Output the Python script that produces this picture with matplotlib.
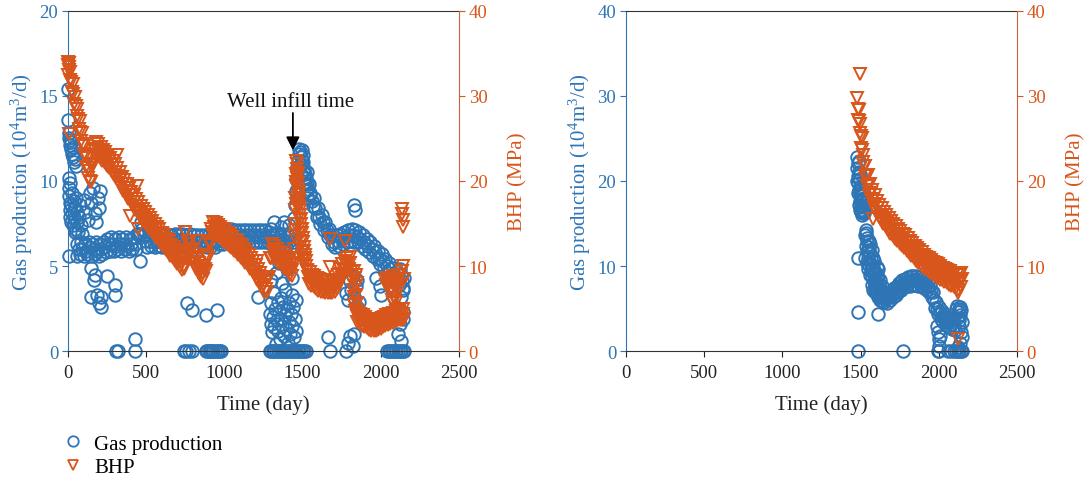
import matplotlib
matplotlib.use("Agg")
import matplotlib.pyplot as plt
from matplotlib.lines import Line2D

plt.rcParams["font.family"] = ["Liberation Serif", "DejaVu Serif"]
plt.rcParams["mathtext.fontset"] = "custom"
plt.rcParams["mathtext.rm"] = "Liberation Serif"
plt.rcParams["mathtext.it"] = "Liberation Serif:italic"

BLUE = "#2E75B6"
ORANGE = "#D8561B"

# Well A: gas production (1e4 m3/d) by day
well_a_gas = [
    # early flowback
    (2, 15.4), (3, 13.6), (4, 12.8), (5, 5.6), (6, 12.5), (10, 12.4), (14, 12.1), (18, 12.3),
    (22, 11.9), (26, 11.6), (30, 12.0), (34, 11.4), (40, 11.1), (46, 11.3), (52, 10.9),
    (4, 10.2), (6, 9.6), (8, 9.1), (10, 8.7), (12, 8.3), (14, 9.9), (16, 7.9), (18, 8.6),
    (20, 7.6), (24, 9.3), (28, 8.1), (32, 7.4), (36, 8.8), (40, 7.8), (44, 7.2), (48, 8.4),
    (52, 9.0), (56, 7.6), (60, 8.2), (66, 7.0), (72, 7.9), (78, 8.6), (84, 7.4), (90, 6.9),
    (45, 7.0), (57, 5.6), (100, 8.9), (110, 8.2), (125, 7.7), (140, 9.3), (150, 8.7),
    (160, 9.6), (170, 8.1), (180, 7.6), (190, 9.0), (200, 8.4), (205, 9.4),
    # plateau
    (60, 6.3), (68, 6.0), (76, 5.7), (84, 6.4), (92, 6.0), (100, 5.6), (108, 6.3), (116, 5.9),
    (124, 5.7), (132, 6.4), (140, 6.1), (148, 5.6), (156, 6.3), (164, 6.0), (172, 5.7),
    (180, 6.4), (188, 5.9), (196, 5.6), (204, 6.3), (212, 6.0), (220, 5.7), (228, 6.4),
    (236, 6.1), (244, 5.8), (252, 6.6), (260, 6.3), (268, 5.9), (276, 6.7), (284, 6.3),
    (292, 5.9), (300, 6.6), (308, 6.2), (316, 6.0), (324, 6.7), (332, 6.3), (340, 5.9),
    (348, 6.6), (356, 6.3), (364, 6.0), (372, 6.7), (380, 6.2), (388, 5.9), (396, 6.6),
    (404, 6.3), (412, 6.0), (420, 6.7), (428, 6.3), (436, 6.0), (444, 6.9), (452, 6.8),
    (460, 6.9), (468, 7.6), (476, 7.2), (484, 6.8), (492, 7.0), (460, 5.3),
    (500, 6.5), (508, 6.1), (516, 6.8), (524, 6.5), (532, 6.2), (540, 6.9), (548, 6.4),
    (556, 6.1), (564, 6.8), (572, 6.5), (580, 6.2), (588, 6.8), (596, 6.4), (604, 6.1),
    (612, 6.8), (620, 6.5), (628, 6.2), (636, 6.9), (644, 6.5), (652, 6.1), (660, 6.8),
    (668, 6.5), (676, 6.2), (684, 6.9), (692, 6.6), (700, 6.2), (708, 6.9), (716, 6.5),
    (724, 6.2), (732, 6.9), (740, 6.5), (748, 6.1), (756, 6.8), (764, 6.5), (772, 6.2),
    (780, 6.9), (788, 6.4), (796, 6.1), (804, 6.8), (812, 6.5), (820, 6.1), (828, 6.8),
    (836, 6.4), (844, 6.1), (852, 6.8), (860, 6.5), (868, 6.2), (876, 6.8), (884, 6.4),
    (892, 6.1), (900, 6.8), (908, 6.5), (916, 6.2), (924, 6.8), (932, 6.5), (940, 6.1),
    (948, 6.8), (956, 6.5), (964, 6.3), (972, 7.0), (980, 6.6), (988, 6.3), (996, 7.1),
    (1004, 6.8), (1012, 6.5), (1020, 7.2), (1028, 6.9), (1036, 6.5), (1044, 7.2), (1052, 6.9),
    (1060, 6.5), (1068, 7.1), (1076, 6.8), (1084, 6.4), (1092, 7.1), (1100, 6.8), (1108, 6.4),
    (1116, 7.1), (1124, 6.7), (1132, 6.4), (1140, 7.1), (1148, 6.8), (1156, 6.4), (1164, 7.1),
    (1172, 6.7), (1180, 6.4), (1188, 7.1), (1196, 6.8), (1204, 6.4), (1212, 7.1), (1220, 6.7),
    (1228, 6.4), (1236, 7.1), (1244, 6.8), (1252, 6.4), (1260, 7.1), (1268, 6.7), (1276, 6.4),
    (1284, 7.0), (1292, 6.7), (1300, 6.3), (1308, 6.9), (1316, 6.5), (1324, 6.2), (1332, 6.9),
    (1340, 6.5), (1348, 6.2), (1356, 6.8), (1364, 6.5), (1372, 6.1), (1380, 6.8), (1388, 6.5),
    (1396, 6.1), (1404, 6.8), (1412, 6.5), (1420, 6.1), (1428, 6.8), (1436, 6.4), (1444, 6.6),
    (1300, 7.2), (1320, 7.6), (1335, 6.9), (1360, 7.3), (1380, 7.6), (1410, 7.4),
    # response to the infill well
    (1445, 7.8), (1450, 8.6), (1455, 9.4), (1460, 10.1), (1465, 10.8), (1470, 11.2),
    (1475, 11.6), (1480, 11.9), (1485, 11.7), (1490, 11.4), (1495, 11.8), (1500, 11.5),
    (1505, 11.1), (1510, 10.7), (1515, 10.4), (1520, 10.2), (1525, 10.5), (1530, 9.9),
    (1535, 9.5), (1540, 9.8), (1545, 9.2), (1470, 10.2), (1480, 10.8), (1490, 10.4),
    (1500, 10.6), (1510, 9.8), (1520, 9.4), (1530, 9.0), (1462, 9.0), (1472, 9.6),
    (1488, 11.0), (1498, 11.2), (1508, 10.2), (1518, 9.9),
    (1550, 9.3), (1558, 8.8), (1566, 8.5), (1574, 9.0), (1582, 8.4), (1590, 7.9), (1598, 8.4),
    (1606, 7.9), (1614, 7.5), (1622, 8.0), (1630, 7.6), (1638, 7.1), (1646, 7.6), (1654, 7.1),
    (1662, 6.7), (1670, 7.2), (1678, 6.8), (1686, 6.3), (1694, 6.8), (1702, 6.4), (1710, 6.1),
    (1718, 6.8), (1726, 6.5), (1734, 6.2), (1742, 6.9), (1750, 6.6), (1758, 6.3), (1766, 7.0),
    (1774, 6.7), (1782, 6.4), (1790, 7.1), (1798, 6.8), (1806, 6.5), (1814, 7.2), (1822, 6.8),
    (1830, 6.4), (1838, 7.1), (1846, 6.7), (1854, 6.4), (1862, 7.0), (1870, 6.6), (1878, 6.2),
    (1886, 6.8), (1894, 6.4), (1902, 6.0), (1910, 6.6), (1918, 6.2), (1926, 5.8), (1934, 6.4),
    (1942, 6.0), (1950, 5.6), (1958, 6.2), (1966, 5.8), (1974, 5.4), (1982, 5.9), (1990, 5.5),
    (1998, 5.1), (2006, 5.7), (2014, 5.3), (2022, 4.9), (2030, 5.4), (2038, 5.0), (2046, 4.6),
    (2054, 5.2), (2062, 4.8), (2070, 4.4), (2078, 4.9), (2086, 4.5), (2094, 4.1), (2102, 4.7),
    (2110, 4.3), (2118, 3.9), (2126, 4.5), (2134, 4.1), (2142, 3.7), (2150, 4.3),
    # shut-ins and low readings
    (146, 4.9), (150, 3.2), (165, 4.2), (175, 4.5), (186, 3.3), (196, 2.8), (209, 3.2),
    (214, 2.6), (247, 4.4), (300, 3.9), (300, 3.3), (305, 0.0), (318, 0.0), (428, 0.7),
    (430, 0.0), (760, 2.8), (790, 2.4), (880, 2.1), (955, 2.4), (740, 0.0), (755, 0.0),
    (775, 0.0), (790, 0.0), (880, 0.0), (890, 0.0), (900, 0.0), (905, 0.0), (915, 0.0),
    (920, 0.0), (930, 0.0), (940, 0.0), (950, 0.0), (960, 0.0), (970, 0.0), (980, 0.0),
    (1215, 3.2),
    (1290, 2.2), (1295, 1.6), (1300, 2.8), (1305, 1.1), (1310, 2.0), (1315, 3.4), (1320, 1.4),
    (1325, 2.5), (1330, 0.4), (1335, 1.8), (1340, 2.9), (1345, 1.2), (1350, 2.3), (1355, 0.7),
    (1360, 1.9), (1365, 3.1), (1370, 1.5), (1375, 2.6), (1380, 0.9), (1385, 2.1), (1390, 3.6),
    (1395, 1.3), (1400, 2.4), (1405, 0.5), (1410, 1.7), (1415, 2.8), (1420, 1.0), (1425, 2.2),
    (1430, 3.3), (1435, 1.5), (1440, 2.6), (1445, 0.8), (1450, 1.9), (1455, 3.0), (1460, 1.2),
    (1300, 4.2), (1330, 4.6), (1350, 5.2), (1370, 4.0), (1400, 4.8), (1430, 4.3),
    (1290, 0.0), (1300, 0.0), (1310, 0.0), (1320, 0.0), (1330, 0.0), (1340, 0.0), (1350, 0.0),
    (1360, 0.0), (1370, 0.0), (1380, 0.0), (1390, 0.0), (1400, 0.0), (1410, 0.0), (1420, 0.0),
    (1430, 0.0), (1440, 0.0), (1450, 0.0), (1460, 0.0), (1470, 0.0), (1480, 0.0), (1490, 0.0),
    (1500, 0.0), (1510, 0.0), (1520, 0.0),
    (1660, 0.8), (1674, 0.0), (1780, 0.0), (1790, 0.5), (1800, 0.9), (1820, 0.3), (1830, 1.0),
    (1780, 3.4), (1790, 3.0), (1800, 4.1), (1810, 3.6), (1820, 4.4), (1830, 3.2), (1840, 3.8),
    (1850, 4.2), (1860, 2.9), (1845, 2.6), (1830, 8.6), (1836, 8.3),
    (1970, 4.3), (1994, 3.8), (2000, 3.3),
    (2040, 0.0), (2050, 0.0), (2060, 0.0), (2070, 0.0), (2080, 0.0), (2090, 0.0), (2100, 0.0),
    (2110, 0.0), (2120, 0.0), (2130, 0.0), (2140, 0.0), (2150, 0.0), (2110, 1.0), (2120, 1.6),
    (2130, 0.6), (2140, 1.9), (2100, 2.6), (2130, 3.2), (2145, 2.3), (2120, 4.8), (2140, 3.6),
]

# Well A: bottom-hole pressure (MPa) by day
well_a_bhp = [
    (0, 34.0), (2, 33.6), (3, 32.5), (4, 33.9), (5, 25.5), (7, 33.4),
    (5, 33.1), (10, 31.9), (15, 32.8), (20, 31.7), (25, 30.5), (30, 31.4), (35, 30.2),
    (40, 29.0), (45, 29.9), (50, 28.8), (55, 27.6), (60, 28.5), (65, 27.3), (70, 26.1),
    (75, 27.0), (80, 25.8), (85, 24.7), (90, 25.6), (95, 24.4), (100, 23.2), (105, 24.1),
    (110, 22.9), (115, 21.7), (120, 22.7), (125, 21.5), (130, 20.3), (135, 21.2), (140, 20.0),
    (145, 19.9), (150, 22.0), (155, 22.0), (160, 21.9), (165, 23.8), (170, 23.5), (175, 23.1),
    (180, 24.6), (185, 23.8), (190, 23.0), (195, 24.3), (200, 23.5), (205, 22.7), (210, 24.0),
    (215, 23.2), (220, 22.4), (225, 23.7), (230, 22.9), (235, 22.1), (240, 23.4), (245, 22.6),
    (250, 21.8), (255, 23.1), (260, 22.3), (265, 21.5), (270, 22.7), (275, 21.9), (280, 21.1),
    (285, 22.4), (290, 21.5), (295, 20.7), (300, 22.0), (305, 21.1), (310, 20.3), (315, 21.5),
    (320, 20.6), (325, 19.8), (330, 21.0), (335, 20.2), (340, 19.3), (345, 20.5), (350, 19.7),
    (355, 18.8), (360, 20.1), (365, 19.2), (370, 18.4), (375, 19.6), (380, 18.8), (385, 17.9),
    (390, 19.2), (395, 18.3), (400, 17.5), (405, 18.7), (410, 17.9), (415, 17.0), (420, 18.3),
    (425, 17.5), (430, 16.6), (435, 17.9), (440, 17.1), (445, 16.2), (450, 17.5), (455, 16.6),
    (460, 15.8), (465, 17.1), (470, 16.2), (475, 15.4), (480, 16.7),
    (316, 23.0), (396, 15.9), (440, 19.4), (449, 14.3),
    (485, 15.9), (490, 15.1), (495, 16.4), (500, 15.5), (505, 14.7), (510, 16.0), (515, 15.2),
    (520, 14.4), (525, 15.7), (530, 14.8), (535, 14.0), (540, 15.3), (545, 14.5), (550, 13.7),
    (555, 15.0), (560, 14.2), (565, 13.3), (570, 14.6), (575, 13.8), (580, 13.0), (585, 14.3),
    (590, 13.5), (595, 12.6), (600, 13.9), (605, 13.1), (610, 12.3), (615, 13.6), (620, 12.8),
    (625, 11.9), (630, 13.2), (635, 12.4), (640, 11.6), (645, 12.9), (650, 12.1), (655, 11.2),
    (660, 12.5), (665, 11.7), (670, 10.9), (675, 12.2), (680, 11.4), (685, 10.6), (690, 11.9),
    (695, 11.0), (700, 10.2), (705, 11.5), (710, 10.7), (715, 9.9), (720, 11.2), (725, 10.3),
    (730, 9.5), (735, 10.8), (740, 10.0),
    (745, 9.7), (750, 11.6), (755, 11.4), (760, 11.2), (765, 13.0), (770, 12.6), (775, 11.8),
    (780, 12.9), (785, 11.9), (790, 10.9), (795, 12.0), (800, 11.1), (805, 10.2), (810, 11.4),
    (815, 10.5), (820, 9.6), (825, 10.8), (830, 9.9), (835, 9.1), (840, 10.3), (845, 9.5),
    (850, 8.7), (855, 10.0), (860, 9.2), (865, 8.5), (870, 10.0), (875, 9.6), (880, 9.4),
    (885, 11.3), (890, 11.1), (895, 11.0), (900, 12.9), (905, 12.7), (910, 12.5), (915, 14.3),
    (920, 14.0), (925, 13.6), (930, 15.2), (935, 14.6), (940, 13.8), (750, 14.0), (824, 13.0),
    (945, 15.1), (950, 14.3), (955, 13.5), (960, 14.8), (965, 14.1), (970, 13.3), (975, 14.6),
    (980, 13.9), (985, 13.1), (990, 14.4), (995, 13.6), (1000, 12.8), (1005, 14.2),
    (1010, 13.4), (1015, 12.6), (1020, 13.9), (1025, 13.1), (1030, 12.3), (1035, 13.6),
    (1040, 12.9), (1045, 12.1), (1050, 13.4), (1055, 12.6), (1060, 11.8), (1065, 13.1),
    (1070, 12.3), (1075, 11.6), (1080, 12.9), (1085, 12.1), (1090, 11.3), (1095, 12.6),
    (1100, 11.8), (1105, 11.0), (1110, 12.3), (1115, 11.5), (1120, 10.7), (1125, 12.0),
    (1130, 11.2), (1135, 10.4), (1140, 11.7), (1145, 10.9), (1150, 10.1), (1155, 11.3),
    (1160, 10.5), (1165, 9.7), (1170, 11.0), (1175, 10.1), (1180, 9.3), (1185, 10.6),
    (1190, 9.7), (1195, 8.9), (1200, 10.1), (1205, 9.3), (1210, 8.4), (1215, 9.7), (1220, 8.8),
    (1225, 7.9), (1230, 9.2), (1235, 8.3), (1240, 7.4), (1245, 8.7), (1250, 7.8), (1255, 6.9),
    (1260, 8.1), (1265, 7.3), (1270, 6.9), (1208, 10.6),
    (1275, 8.5), (1280, 8.6), (1285, 8.7), (1290, 10.9), (1295, 11.0), (1300, 10.9),
    (1305, 12.6), (1310, 11.8), (1315, 11.0), (1320, 12.3), (1325, 11.5), (1330, 10.7),
    (1335, 12.0), (1340, 11.2), (1345, 10.4), (1350, 11.7), (1355, 10.9), (1360, 10.2),
    (1365, 11.5), (1370, 10.7), (1375, 9.9), (1380, 11.2), (1385, 10.4), (1390, 9.6),
    (1395, 10.9), (1400, 10.1), (1405, 9.3), (1410, 10.6), (1415, 9.8), (1420, 9.0),
    (1425, 10.3), (1430, 9.5), (1435, 8.8), (1440, 10.1),
    (1444, 10.4), (1446, 12.0), (1448, 13.5), (1450, 15.0), (1452, 16.6), (1454, 18.0),
    (1456, 19.4), (1458, 20.8), (1460, 22.4), (1462, 21.4), (1464, 22.0), (1466, 20.3),
    (1468, 20.9), (1470, 19.1), (1472, 19.8), (1474, 18.0), (1476, 18.7), (1478, 17.0),
    (1480, 17.7), (1483, 16.0), (1486, 16.6), (1489, 15.0), (1492, 15.5), (1495, 13.9),
    (1498, 14.4), (1501, 12.8), (1504, 13.3), (1507, 11.8), (1510, 12.2), (1513, 10.9),
    (1516, 11.3), (1519, 10.0), (1522, 10.6), (1526, 9.4),
    (1447, 11.0), (1451, 14.2), (1455, 17.3), (1459, 19.9), (1463, 20.6), (1469, 18.4),
    (1475, 16.9), (1481, 15.4), (1487, 14.3), (1493, 12.9), (1499, 11.6), (1505, 10.8),
    (1511, 10.2),
    (1530, 9.5), (1535, 8.7), (1540, 7.9), (1545, 9.3), (1550, 8.5), (1555, 7.7), (1560, 9.0),
    (1565, 8.3), (1570, 7.5), (1575, 8.8), (1580, 8.1), (1585, 7.3), (1590, 8.6), (1595, 7.9),
    (1600, 7.1), (1605, 8.5), (1610, 7.7), (1615, 7.0), (1620, 8.4), (1625, 7.6), (1630, 6.9),
    (1635, 8.3), (1640, 7.6), (1645, 6.8), (1650, 8.2), (1655, 7.5), (1660, 6.8), (1665, 8.2),
    (1670, 7.5), (1675, 6.8), (1680, 8.2), (1685, 7.5), (1690, 6.8), (1695, 8.2), (1700, 7.5),
    (1705, 6.9), (1710, 8.4), (1715, 7.8), (1720, 7.3),
    (1674, 13.2), (1674, 9.9), (1770, 13.0),
    (1725, 8.9), (1730, 8.4), (1735, 8.0), (1740, 9.6), (1745, 9.1), (1750, 8.6), (1755, 10.2),
    (1760, 9.7), (1765, 9.1), (1770, 10.6), (1775, 10.1), (1780, 9.5), (1785, 11.0),
    (1790, 10.3), (1795, 9.7), (1800, 11.1), (1805, 10.3), (1810, 9.3),
    (1814, 9.0), (1818, 8.2), (1822, 7.2), (1826, 6.3), (1830, 5.4), (1834, 4.7), (1836, 8.6),
    (1840, 7.6), (1844, 6.6), (1848, 5.7), (1828, 9.4), (1842, 9.0), (1846, 8.0),
    (1840, 4.8), (1845, 4.1), (1850, 3.4), (1855, 4.6), (1860, 3.9), (1865, 3.2), (1870, 4.4),
    (1875, 3.7), (1880, 3.0), (1885, 4.2), (1890, 3.5), (1895, 2.8), (1900, 4.0), (1905, 3.3),
    (1910, 2.7), (1915, 3.8), (1920, 3.2), (1925, 2.5), (1930, 3.7), (1935, 3.0), (1940, 2.4),
    (1945, 3.5), (1950, 2.9), (1955, 2.3), (1960, 3.6), (1965, 3.0), (1970, 2.4), (1975, 3.7),
    (1980, 3.1), (1985, 2.5), (1990, 3.8), (1995, 3.2), (2000, 2.6), (2005, 3.9), (2010, 3.3),
    (2015, 2.8), (2020, 4.0), (2025, 3.5), (2030, 2.9), (2035, 4.2), (2040, 3.6), (2045, 3.1),
    (2050, 4.3), (2055, 3.7), (2060, 3.2), (2065, 4.4), (2070, 3.9), (2075, 3.3), (2080, 4.5),
    (2085, 4.0), (2090, 3.4), (2095, 4.7), (2100, 4.1), (2105, 3.5), (2110, 4.8), (2115, 4.2),
    (2120, 3.7), (2125, 4.9), (2130, 4.3), (2135, 3.7), (2140, 5.0), (2145, 4.4), (2150, 3.8),
    (2024, 8.4), (2032, 7.8), (2040, 8.6), (2048, 7.6), (2056, 8.2), (2064, 7.4), (2072, 8.0),
    (2080, 8.8), (2088, 7.7), (2096, 8.3), (2104, 7.5), (2112, 8.1), (2120, 8.9), (2128, 7.8),
    (2136, 9.4), (2144, 10.0), (2150, 8.5), (2070, 6.0), (2080, 5.6), (2090, 6.2), (2100, 5.8),
    (2136, 16.7), (2138, 16.1), (2140, 15.4), (2142, 14.6),
]

# Well B (infill well): gas production by day
well_b_gas = [
    (1484, 0.0), (1484, 4.6), (1484, 11.0),
    (1478, 22.8), (1480, 21.5), (1482, 20.6), (1484, 22.1), (1486, 19.8), (1488, 21.0),
    (1490, 18.9), (1492, 20.2), (1494, 17.6), (1496, 19.3), (1498, 18.4), (1500, 16.9),
    (1502, 17.9), (1504, 16.4), (1506, 18.2), (1508, 17.2), (1510, 16.6), (1512, 17.7),
    (1514, 16.2), (1516, 17.0), (1520, 16.5), (1524, 17.4),
    (1479, 20.0), (1483, 18.6), (1487, 22.4), (1491, 17.2), (1495, 20.8), (1499, 16.6),
    (1503, 19.0), (1507, 16.0), (1511, 18.5), (1515, 17.8), (1519, 16.2), (1523, 18.0),
    (1528, 13.6), (1532, 12.4), (1536, 13.9), (1540, 11.8), (1544, 12.9), (1548, 10.9),
    (1552, 12.2), (1556, 10.1), (1560, 11.5), (1564, 9.4), (1568, 10.8), (1572, 8.8),
    (1576, 11.9), (1580, 9.9), (1584, 8.2), (1588, 10.6), (1592, 7.6), (1596, 9.2), (1600, 7.1),
    (1604, 8.6), (1608, 6.8), (1612, 9.7), (1611, 4.4), (1616, 7.9), (1620, 6.5), (1624, 8.3),
    (1628, 7.2), (1632, 6.3), (1636, 7.6),
    (1530, 11.0), (1534, 14.2), (1538, 10.4), (1542, 13.3), (1546, 9.7), (1550, 11.9),
    (1554, 13.0), (1558, 8.9), (1562, 12.6), (1566, 10.2), (1570, 9.6), (1574, 7.8),
    (1578, 10.9), (1582, 7.2), (1586, 9.4), (1590, 8.4), (1594, 6.9), (1598, 8.0), (1602, 9.9),
    (1606, 7.5), (1610, 6.3), (1614, 8.7), (1618, 7.0), (1622, 6.0), (1626, 7.4), (1630, 6.8),
    (1634, 5.9), (1638, 6.6),
    (1640, 6.8), (1646, 6.3), (1652, 5.8), (1658, 6.7), (1664, 6.2), (1670, 5.7), (1676, 6.8),
    (1682, 6.4), (1688, 6.0), (1694, 7.1), (1700, 6.7), (1706, 6.3), (1712, 7.4), (1718, 7.0),
    (1724, 6.6), (1730, 7.7), (1736, 7.3), (1742, 6.9), (1748, 8.0), (1754, 7.6), (1760, 7.2),
    (1766, 8.3), (1772, 7.9), (1778, 7.5), (1784, 8.5), (1790, 8.1), (1796, 7.7), (1802, 8.7),
    (1808, 8.2), (1814, 7.7), (1820, 8.8), (1826, 8.3), (1832, 7.8), (1838, 8.8), (1844, 8.3),
    (1850, 7.8), (1856, 8.8), (1862, 8.2), (1868, 7.7), (1874, 8.7), (1880, 8.1), (1886, 7.6),
    (1892, 8.5), (1898, 8.0), (1904, 7.4), (1910, 8.4), (1916, 7.8), (1922, 7.2), (1928, 8.1),
    (1934, 7.5), (1940, 6.9), (1946, 7.8), (1952, 7.1), (1958, 6.3), (1964, 6.9), (1970, 6.0),
    (1976, 5.1), (1982, 5.8), (1988, 5.0), (1994, 4.3), (2000, 5.2), (2006, 4.5), (2012, 3.8),
    (2018, 4.7), (2024, 4.0), (2030, 3.4), (2036, 4.3), (2042, 3.7), (2048, 3.1), (2054, 4.0),
    (2060, 3.4), (2066, 2.8), (2072, 3.8), (2078, 3.2), (2084, 2.6), (2090, 3.6), (2096, 3.0),
    (2102, 2.5),
    (2110, 4.9), (2116, 5.3), (2122, 4.6), (2128, 5.0), (2134, 4.2), (2140, 2.2), (2146, 3.4),
    (2150, 1.6), (2118, 3.9), (2126, 2.9), (2132, 3.6), (2144, 4.8), (2138, 5.2),
    (1770, 0.0), (1990, 3.0), (1996, 2.2), (2000, 1.4), (2004, 0.6), (2010, 1.8), (1992, 0.0),
    (2000, 0.0), (2060, 0.0), (2080, 0.0), (2100, 0.0), (2110, 0.0), (2120, 0.0), (2130, 0.0),
    (2140, 0.0), (2150, 0.0), (2120, 0.5), (2135, 1.0),
]

# Well B: bottom-hole pressure by day
well_b_bhp = [
    (1495, 32.6), (2122, 1.4), (1580, 15.5),
    (1480, 29.8), (1483, 28.5), (1486, 27.2), (1489, 28.4), (1492, 27.0), (1495, 25.7),
    (1498, 26.7), (1501, 25.3), (1504, 23.9), (1507, 25.0), (1510, 23.6), (1514, 22.2),
    (1518, 23.1), (1522, 21.8), (1526, 20.6), (1530, 21.8), (1535, 20.6), (1540, 19.4),
    (1545, 20.7), (1550, 19.5), (1555, 18.4), (1560, 19.7), (1565, 18.6), (1570, 17.6),
    (1575, 18.9), (1580, 17.9), (1585, 16.9), (1590, 18.3), (1595, 17.3), (1600, 16.3),
    (1605, 17.7), (1610, 16.8), (1615, 15.8), (1620, 17.2), (1625, 16.3), (1630, 15.4),
    (1635, 16.8), (1640, 15.9), (1645, 14.9), (1650, 16.4), (1655, 15.5), (1660, 14.6),
    (1665, 16.0), (1670, 15.1), (1675, 14.2), (1680, 15.7), (1685, 14.8), (1690, 13.8),
    (1695, 15.3), (1700, 14.4), (1705, 13.5), (1710, 15.0), (1715, 14.1), (1720, 13.2),
    (1725, 14.7), (1730, 13.8), (1735, 12.9), (1740, 14.4), (1745, 13.5), (1750, 12.6),
    (1755, 14.1), (1760, 13.2), (1765, 12.3), (1770, 13.8), (1775, 12.9), (1780, 12.1),
    (1785, 13.6), (1790, 12.7), (1795, 11.8), (1800, 13.3), (1805, 12.4), (1810, 11.5),
    (1815, 13.0), (1820, 12.1), (1825, 11.2), (1830, 12.7), (1835, 11.8), (1840, 10.9),
    (1845, 12.4), (1850, 11.5), (1855, 10.6), (1860, 12.1), (1865, 11.2), (1870, 10.3),
    (1875, 11.9), (1880, 11.0), (1885, 10.1), (1890, 11.6), (1895, 10.7), (1900, 9.8),
    (1905, 11.3), (1910, 10.5), (1915, 9.6), (1920, 11.1), (1925, 10.2), (1930, 9.4),
    (1935, 10.9), (1940, 10.0), (1945, 9.2), (1950, 10.7), (1955, 9.8), (1960, 9.0),
    (1965, 10.5), (1970, 9.6), (1975, 8.8), (1980, 10.3), (1985, 9.5), (1990, 8.6),
    (1995, 10.2), (2000, 9.3), (2005, 8.4), (2010, 10.0), (2015, 9.1), (2020, 8.3),
    (2025, 9.8), (2030, 9.0), (2035, 8.1), (2040, 9.7), (2045, 8.8), (2050, 8.0), (2055, 9.5),
    (2060, 8.7), (2065, 7.8), (2070, 9.4), (2075, 8.5), (2080, 7.7), (2085, 9.2), (2090, 8.4),
    (2095, 7.5), (2100, 9.1), (2105, 8.2), (2110, 7.4), (2115, 8.9), (2120, 8.0), (2125, 7.2),
    (2130, 8.9), (2135, 8.2), (2140, 7.5), (2145, 9.2), (2150, 8.5), (2120, 6.8),
]


def unzip(pairs):
    return [p[0] for p in pairs], [p[1] for p in pairs]


def style_axes(ax, ax2, gas_max, gas_step):
    ax.set_xlim(0, 2500)
    ax.set_xticks(range(0, 2501, 500))
    ax.set_ylim(0, gas_max)
    ax.set_yticks(range(0, gas_max + 1, gas_step))
    ax2.set_ylim(0, 40)
    ax2.set_yticks(range(0, 41, 10))
    ax.set_xlabel("Time (day)", fontsize=15, color="#222222", labelpad=10)
    ax.set_ylabel("Gas production (10$^4$m$^3$/d)", fontsize=15, color=BLUE, labelpad=3)
    ax2.set_ylabel("BHP (MPa)", fontsize=15, color=ORANGE, labelpad=15)
    ax.tick_params(axis="x", direction="out", length=4, labelsize=13.5, colors="#222222", pad=5)
    ax.tick_params(axis="y", direction="out", length=4, labelsize=13.5, colors=BLUE,
                   labelcolor=BLUE, pad=3)
    ax2.tick_params(axis="y", direction="out", length=4, labelsize=13.5, colors=ORANGE,
                    labelcolor=ORANGE, pad=3)
    for side in ("left", "right", "top", "bottom"):
        ax2.spines[side].set_visible(False)
    ax.spines["left"].set_color(BLUE)
    ax.spines["top"].set_color("#333333")
    ax.spines["bottom"].set_color("#333333")
    ax.spines["right"].set_visible(False)
    ax2.spines["right"].set_visible(True)
    ax2.spines["right"].set_color("#C8643A")


fig = plt.figure(figsize=(10.89, 4.85), dpi=100)
ax_a = fig.add_axes([0.0624, 0.2742, 0.3591, 0.7011])
ax_b = fig.add_axes([0.5748, 0.2742, 0.3591, 0.7011])

marker_kw = dict(linestyle="none", markersize=9, markeredgewidth=1.4)

for ax, gas, bhp, gas_max, gas_step in (
    (ax_a, well_a_gas, well_a_bhp, 20, 5),
    (ax_b, well_b_gas, well_b_bhp, 40, 10),
):
    ax2 = ax.twinx()
    t, q = unzip(gas)
    ax.plot(t, q, marker="o", markerfacecolor="none", markeredgecolor=BLUE,
            clip_on=False, **marker_kw)
    t, p = unzip(bhp)
    ax2.plot(t, p, marker="v", markerfacecolor="none", markeredgecolor=ORANGE,
             clip_on=False, **marker_kw)
    style_axes(ax, ax2, gas_max, gas_step)

# infill marker on the first well
ax_a.text(1420, 14.7, "Well infill time", ha="center", va="center", fontsize=15,
          color="#111111")
ax_a.annotate("", xy=(1438, 11.8), xytext=(1438, 14.0),
              arrowprops=dict(arrowstyle="-|>", color="black", lw=1.3,
                              mutation_scale=20, shrinkA=0, shrinkB=0))

legend_handles = [
    Line2D([], [], linestyle="none", marker="o", markerfacecolor="none",
           markeredgecolor=BLUE, markersize=7.5, markeredgewidth=1.3, label="Gas production"),
    Line2D([], [], linestyle="none", marker="v", markerfacecolor="none",
           markeredgecolor=ORANGE, markersize=7.5, markeredgewidth=1.3, label="BHP"),
]
fig.legend(handles=legend_handles, loc="upper left", bbox_to_anchor=(0.052, 0.12),
           frameon=False, fontsize=15, handlelength=0.8, handletextpad=0.6,
           labelspacing=0.2, borderaxespad=0)

fig.savefig("out.png", dpi=100)
